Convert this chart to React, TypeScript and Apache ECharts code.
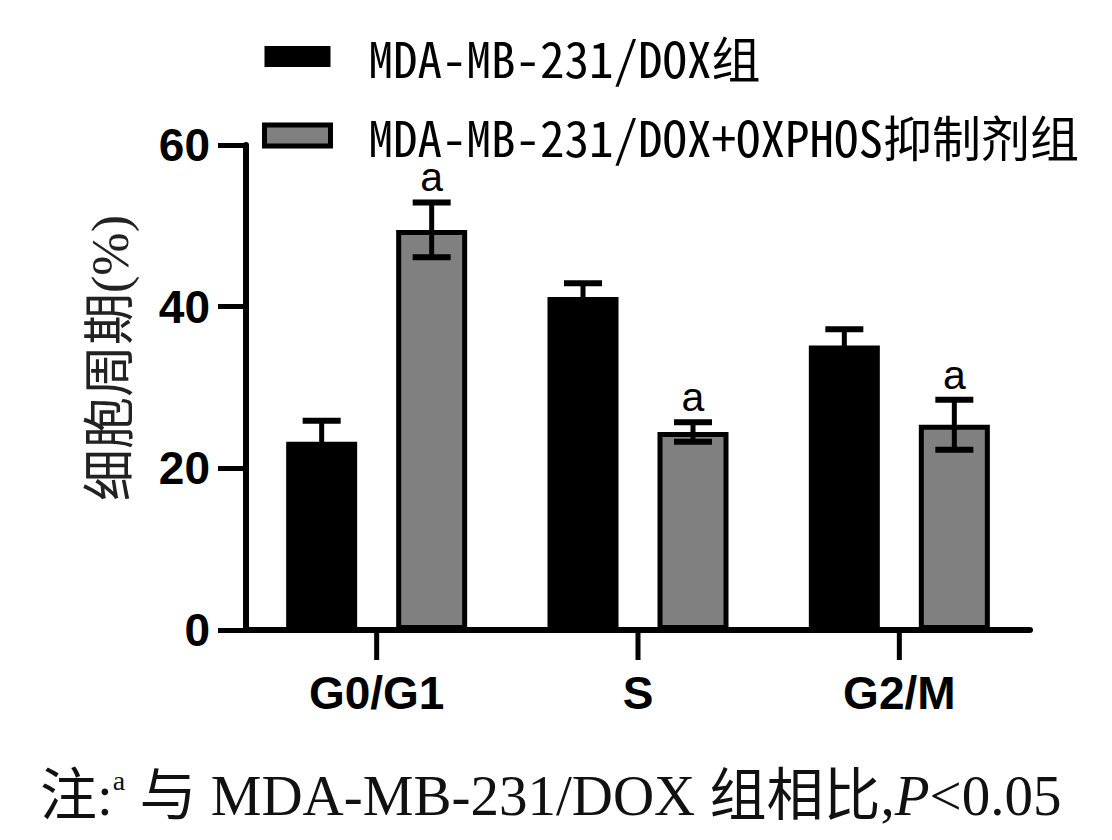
import React, { useEffect, useRef } from "react";
import * as echarts from "echarts";

const categories = ["G0/G1", "S", "G2/M"];
const seriesNames = ["MDA-MB-231/DOX组", "MDA-MB-231/DOX+OXPHOS抑制剂组"];
const doxValues = [23.3, 41.2, 35.2];
const doxErrors = [2.6, 1.7, 2.0];
const oxValues = [49.5, 24.5, 25.4];
const oxErrors = [3.4, 1.2, 3.1];
const oxMarks = ["a", "a", "a"];
const doxMarks = ["", "", ""];
const yTicks = { min: 0, max: 60, interval: 20 };
const yName = "细胞周期(%)";

const BAR_W = 71;
const BAR_GAP = 39;

function errorSeries(values: number[], errors: number[], marks: string[], side: number) {
  return {
    type: "custom",
    z: 5,
    silent: true,
    data: values.map((v, i) => [i, v, errors[i]]),
    renderItem: (params: any, api: any) => {
      const idx = api.value(0);
      const v = api.value(1);
      const e = api.value(2);
      const mark = marks[params.dataIndex];
      const c = api.coord([idx, v]);
      const top = api.coord([idx, v + e]);
      const bot = api.coord([idx, v - e]);
      const x = c[0] + side * (BAR_W + BAR_GAP) / 2;
      const capHalf = 19;
      const lw = 6;
      const children: any[] = [
        { type: "line", shape: { x1: x, y1: top[1], x2: x, y2: bot[1] }, style: { stroke: "#000", lineWidth: 5 } },
        { type: "line", shape: { x1: x - capHalf, y1: top[1], x2: x + capHalf, y2: top[1] }, style: { stroke: "#000", lineWidth: lw } },
        { type: "line", shape: { x1: x - capHalf, y1: bot[1], x2: x + capHalf, y2: bot[1] }, style: { stroke: "#000", lineWidth: lw } },
      ];
      if (mark) {
        children.push({
          type: "text",
          style: {
            text: mark,
            x: x,
            y: top[1] - 8,
            align: "center",
            verticalAlign: "bottom",
            fill: "#000",
            font: "41px 'Liberation Sans', Arial, sans-serif",
            lineHeight: 34,
          },
        });
      }
      return { type: "group", children };
    },
  };
}

export default function App() {
  const ref = useRef<HTMLDivElement>(null);
  useEffect(() => {
    if (!ref.current) return;
    const chart = echarts.init(ref.current, undefined, { renderer: "svg" });
    const baseGraphics: any[] = [
      {
        type: "text",
        x: 110,
        y: 358,
        rotation: Math.PI / 2,
        style: {
          text: yName,
          align: "center",
          verticalAlign: "middle",
          fill: "#222",
          font: "52px 'Liberation Serif', 'Noto Sans CJK SC', serif",
        },
      },
      {
        type: "text",
        x: 40,
        y: 795,
        style: {
          text: "注:{sup|a} 与 MDA-MB-231/DOX 组相比,{it|P}<0.05",
          align: "left",
          verticalAlign: "middle",
          fill: "#111",
          font: "57px 'Liberation Serif', 'Noto Sans CJK SC', serif",
          rich: {
            sup: { fontSize: 28, verticalAlign: "top", padding: [0, 0, 26, 0], fontFamily: "'Liberation Serif', serif" },
            it: { fontStyle: "italic", fontSize: 57, fontFamily: "'Liberation Serif', serif" },
          },
        },
      },
    ];
    const option: any = {
      animation: false,
      backgroundColor: "#fff",
      legend: {
        orient: "vertical",
        left: 262,
        top: 32,
        padding: 0,
        itemWidth: 66,
        itemHeight: 21,
        itemGap: 30,
        icon: "rect",
        selectedMode: false,
        textStyle: {
          fontFamily: "'Noto Sans Mono CJK SC', 'DejaVu Sans Mono', monospace",
          fontSize: 49,
          lineHeight: 40,
          color: "#000",
          padding: [0, 0, 0, 33],
        },
        data: [
          { name: seriesNames[0], itemStyle: { color: "#000", borderColor: "#000", borderWidth: 0 } },
          { name: seriesNames[1], itemStyle: { color: "#808080", borderColor: "#000", borderWidth: 5 } },
        ],
      },
      grid: { left: 246, right: 82, top: 145, bottom: 210, containLabel: false },
      xAxis: {
        type: "category",
        data: categories,
        boundaryGap: true,
        axisLine: { show: true, lineStyle: { color: "#000", width: 6 } },
        axisTick: { show: false },
        axisLabel: {
          interval: 0,
          margin: 40,
          color: "#000",
          fontFamily: "'Liberation Sans', Arial, sans-serif",
          fontWeight: "bold",
          fontSize: 46,
        },
      },
      yAxis: {
        type: "value",
        min: yTicks.min,
        max: yTicks.max,
        interval: yTicks.interval,
        splitLine: { show: false },
        axisLine: { show: true, lineStyle: { color: "#000", width: 6 } },
        axisTick: { show: true, length: 28, lineStyle: { color: "#000", width: 5 } },
        axisLabel: {
          margin: 36,
          color: "#000",
          fontFamily: "'Liberation Sans', Arial, sans-serif",
          fontWeight: "bold",
          fontSize: 46,
        },
      },
      graphic: baseGraphics,
      series: [
        {
          name: seriesNames[0],
          type: "bar",
          data: doxValues,
          barWidth: BAR_W,
          barGap: (BAR_GAP / BAR_W) * 100 + "%",
          itemStyle: { color: "#000", borderColor: "#000", borderWidth: 5 },
        },
        {
          name: seriesNames[1],
          type: "bar",
          data: oxValues,
          barWidth: BAR_W,
          barGap: (BAR_GAP / BAR_W) * 100 + "%",
          itemStyle: { color: "#808080", borderColor: "#000", borderWidth: 5 },
        },
        errorSeries(doxValues, doxErrors, doxMarks, -1),
        errorSeries(oxValues, oxErrors, oxMarks, 1),
      ],
    };
    chart.setOption(option);
    // category tick marks below the x axis, positioned from the axis scale
    const ticks = categories.map((cat, i) => {
      const p = chart.convertToPixel({ gridIndex: 0 }, [i, 0]) as number[];
      return {
        type: "line",
        z: 100,
        shape: { x1: p[0], y1: p[1], x2: p[0], y2: p[1] + 30 },
        style: { stroke: "#000", lineWidth: 5 },
      };
    });
    chart.setOption({ graphic: [...baseGraphics, ...ticks] });
    return () => chart.dispose();
  }, []);
  return (
    <div
      ref={ref}
      style={{ position: "fixed", left: 0, top: 0, width: 1112, height: 840 }}
    />
  );
}
